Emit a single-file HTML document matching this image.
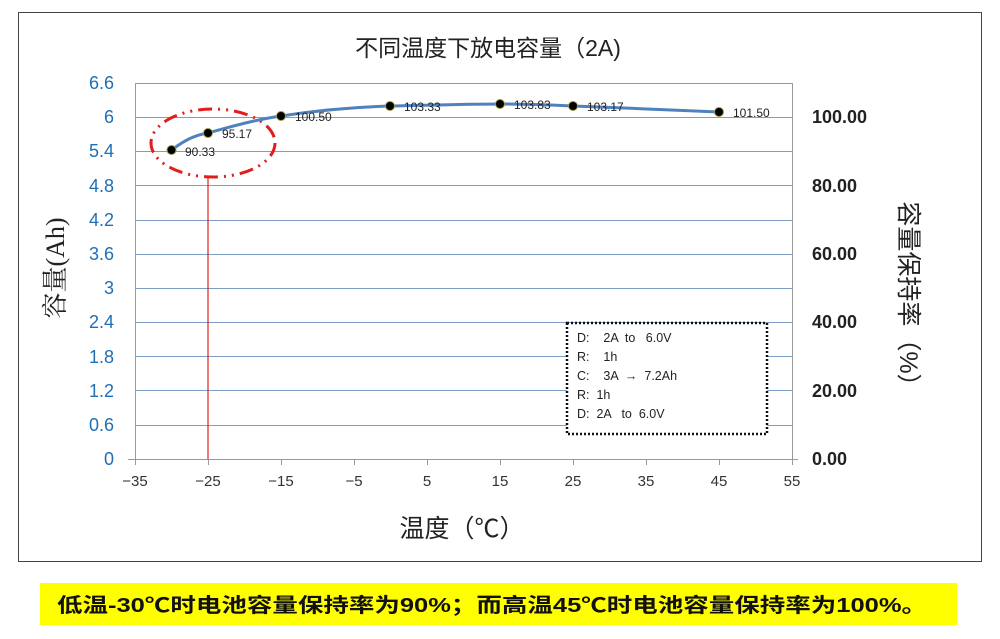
<!DOCTYPE html>
<html><head><meta charset="utf-8"><style>
body{margin:0;background:#fff;}
svg{display:block;font-family:"Liberation Sans","Noto Sans CJK SC",sans-serif;}
.pre{white-space:pre;}
</style></head><body>
<svg width="1000" height="639" viewBox="0 0 1000 639">
<rect x="18.5" y="12.5" width="963" height="549" fill="#fff" stroke="#444" stroke-width="1"/>
<text x="488" y="56" font-size="23" text-anchor="middle" fill="#222">不同温度下放电容量（2A)</text>
<g stroke="#7d9ec4" stroke-width="1">
<line x1="135" x2="792" y1="83.5" y2="83.5"/><line x1="135" x2="792" y1="117.5" y2="117.5"/>
<line x1="135" x2="792" y1="151.5" y2="151.5"/><line x1="135" x2="792" y1="185.5" y2="185.5"/>
<line x1="135" x2="792" y1="220.5" y2="220.5"/><line x1="135" x2="792" y1="254.5" y2="254.5"/>
<line x1="135" x2="792" y1="288.5" y2="288.5"/><line x1="135" x2="792" y1="322.5" y2="322.5"/>
<line x1="135" x2="792" y1="356.5" y2="356.5"/><line x1="135" x2="792" y1="390.5" y2="390.5"/>
<line x1="135" x2="792" y1="425.5" y2="425.5"/>
</g>
<line x1="135.5" y1="83" x2="135.5" y2="459" stroke="#999"/>
<line x1="792.5" y1="83" x2="792.5" y2="459" stroke="#999"/>
<line x1="128" y1="459.5" x2="798" y2="459.5" stroke="#999"/>
<g stroke="#999"><line x1="135.5" x2="135.5" y1="459" y2="465"/><line x1="208.5" x2="208.5" y1="459" y2="465"/><line x1="281.5" x2="281.5" y1="459" y2="465"/><line x1="354.5" x2="354.5" y1="459" y2="465"/><line x1="427.5" x2="427.5" y1="459" y2="465"/><line x1="500.5" x2="500.5" y1="459" y2="465"/><line x1="573.5" x2="573.5" y1="459" y2="465"/><line x1="646.5" x2="646.5" y1="459" y2="465"/><line x1="719.5" x2="719.5" y1="459" y2="465"/><line x1="792.5" x2="792.5" y1="459" y2="465"/></g>
<g font-size="18" fill="#1f6fb5" text-anchor="end">
<text x="114" y="89">6.6</text><text x="114" y="123">6</text><text x="114" y="157">5.4</text><text x="114" y="192">4.8</text><text x="114" y="226">4.2</text><text x="114" y="260">3.6</text><text x="114" y="294">3</text><text x="114" y="328">2.4</text><text x="114" y="363">1.8</text><text x="114" y="397">1.2</text><text x="114" y="431">0.6</text><text x="114" y="465">0</text>
</g>
<g font-size="18" font-weight="bold" fill="#222">
<text x="812" y="123">100.00</text><text x="812" y="192">80.00</text><text x="812" y="260">60.00</text><text x="812" y="328">40.00</text><text x="812" y="397">20.00</text><text x="812" y="465">0.00</text>
</g>
<g font-size="15" fill="#333" text-anchor="middle">
<text x="135" y="486">−35</text><text x="208" y="486">−25</text><text x="281" y="486">−15</text><text x="354" y="486">−5</text><text x="427" y="486">5</text><text x="500" y="486">15</text><text x="573" y="486">25</text><text x="646" y="486">35</text><text x="719" y="486">45</text><text x="792" y="486">55</text>
</g>
<text x="462" y="537" font-size="25" text-anchor="middle" fill="#222">温度（℃）</text>
<text transform="translate(64,268) rotate(-90)" font-size="26" text-anchor="middle" fill="#222" font-family="Liberation Serif,Noto Serif CJK SC,serif">容量(Ah)</text>
<text transform="translate(900,300) rotate(90)" font-size="25" text-anchor="middle" fill="#222">容量保持率（%）</text>
<line x1="208" y1="178" x2="208" y2="459" stroke="#d22" stroke-width="1.2"/>
<ellipse cx="213" cy="143" rx="62" ry="34" fill="none" stroke="#e01e1e" stroke-width="3" stroke-dasharray="14 6 2 6 2 6"/>
<path d="M171.5,150 C185,140 195,135 208,133 C240,124 260,119 281,116 C320,110 360,107 390,106 C440,105 470,104 500,104 C530,104 550,105 573,106 C620,108 680,110 719,112" fill="none" stroke="#4f81bd" stroke-width="3"/>
<g fill="#000" stroke="#9b9b40" stroke-width="1">
<circle cx="171.5" cy="150" r="4.5"/><circle cx="208" cy="133" r="4.5"/><circle cx="281" cy="116" r="4.5"/><circle cx="390" cy="106" r="4.5"/><circle cx="500" cy="104" r="4.5"/><circle cx="573" cy="106" r="4.5"/><circle cx="719" cy="112" r="4.5"/>
</g>
<g font-size="12" fill="#222">
<text x="185" y="156">90.33</text><text x="222" y="138">95.17</text><text x="295" y="121">100.50</text><text x="404" y="111">103.33</text><text x="514" y="109">103.83</text><text x="587" y="111">103.17</text><text x="733" y="117">101.50</text>
</g>
<rect x="567" y="323" width="200" height="111" fill="#fff" stroke="#111" stroke-width="2.5" stroke-dasharray="2 2"/>
<g font-size="12.5" fill="#222" class="pre">
<text x="577" y="342" class="pre">D:    2A  to   6.0V</text>
<text x="577" y="361" class="pre">R:    1h</text>
<text x="577" y="380" class="pre">C:    3A  →  7.2Ah</text>
<text x="577" y="399" class="pre">R:  1h</text>
<text x="577" y="418" class="pre">D:  2A   to  6.0V</text>
</g>
<rect x="40" y="583" width="917" height="42" fill="#ffff00"/>
<text x="57" y="612" font-size="20" font-weight="bold" fill="#111" textLength="870" lengthAdjust="spacingAndGlyphs">低温-30℃时电池容量保持率为90%；而高温45℃时电池容量保持率为100%。</text>
</svg>
</body></html>
